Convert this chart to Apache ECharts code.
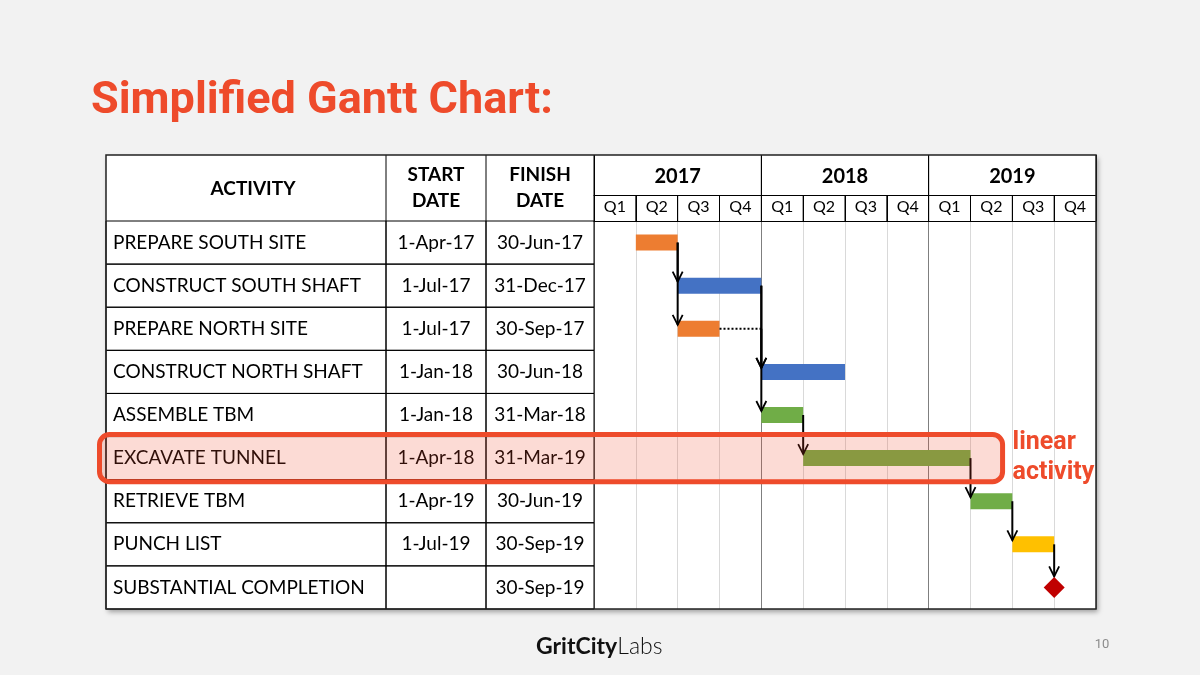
<!DOCTYPE html>
<html>
<head>
<meta charset="utf-8">
<script src="https://cdn.jsdelivr.net/npm/echarts@6/dist/echarts.min.js"></script>
<style>
html, body { margin: 0; padding: 0; background: #f2f2f2; }
#chart { width: 1200px; height: 675px; }
</style>
</head>
<body>
<div id="chart"></div>
<script>
// table rows
var activities = ['PREPARE SOUTH SITE', 'CONSTRUCT SOUTH SHAFT', 'PREPARE NORTH SITE', 'CONSTRUCT NORTH SHAFT',
    'ASSEMBLE TBM', 'EXCAVATE TUNNEL', 'RETRIEVE TBM', 'PUNCH LIST', 'SUBSTANTIAL COMPLETION'];
var startDates = ['1-Apr-17', '1-Jul-17', '1-Jul-17', '1-Jan-18', '1-Jan-18', '1-Apr-18', '1-Apr-19', '1-Jul-19', ''];
var finishDates = ['30-Jun-17', '31-Dec-17', '30-Sep-17', '30-Jun-18', '31-Mar-18', '31-Mar-19', '30-Jun-19', '30-Sep-19', '30-Sep-19'];
var barColors = ['#ed7d31', '#4472c4', '#ed7d31', '#4472c4', '#70ad47', '#70ad47', '#70ad47', '#ffc000', '#c00000'];
// predecessor -> successor
var links = [[0, 1], [0, 2], [1, 3], [1, 4], [2, 3], [4, 5], [5, 6], [6, 7], [7, 8]];
var years = ['2017', '2018', '2019'];
var quarterLabels = ['Q1', 'Q2', 'Q3', 'Q4', 'Q1', 'Q2', 'Q3', 'Q4', 'Q1', 'Q2', 'Q3', 'Q4'];
var highlightRow = 5;
var highlightEnd = 29.3;   // months from Jan 2017, right edge of the callout box

// layout (px)
var L = { left: 106, split: 594, right: 1096, headTop: 155, yearBottom: 195, bodyTop: 221, bottom: 609 };
var colEdges = [0, 280, 380, 488];   // table columns, in table-grid units (px from table left)
var FONT = 'Lato';

var MONTHS = { Jan: 0, Feb: 1, Mar: 2, Apr: 3, May: 4, Jun: 5, Jul: 6, Aug: 7, Sep: 8, Oct: 9, Nov: 10, Dec: 11 };
// months since 1-Jan-2017; a finish date counts to the end of its month
function toMonth(str, isFinish) {
    if (!str) return null;
    var p = str.split('-');
    return (2000 + Number(p[2]) - 2017) * 12 + MONTHS[p[1]] + (isFinish ? 1 : 0);
}
var startM = startDates.map(function (d) { return toMonth(d, false); });
var finishM = finishDates.map(function (d) { return toMonth(d, true); });

var tableData = activities.map(function (a, i) { return [0, i]; });
var barData = [], milestoneData = [];
activities.forEach(function (a, i) {
    if (startM[i] === null) milestoneData.push([finishM[i], i]);
    else barData.push([startM[i], finishM[i], i]);
});
var linkData = links.map(function (l) {
    var x = startM[l[1]] === null ? finishM[l[1]] : startM[l[1]];
    return [x, l[0], l[1], finishM[l[0]]];
});

function renderRow(params, api) {
    var i = api.value(1);
    var mid = api.coord([0, i]);
    var h = api.size([0, 1])[1];
    var top = mid[1] - h / 2;
    var xs = colEdges.map(function (e) { return api.coord([e, i])[0]; });
    var children = [];
    for (var k = 0; k < 3; k++) {
        children.push({
            type: 'rect',
            shape: { x: xs[k], y: top, width: xs[k + 1] - xs[k], height: h },
            style: { fill: null, stroke: '#000', lineWidth: 1 }
        });
    }
    var txt = { fill: '#000', fontSize: 19, fontFamily: FONT, verticalAlign: 'middle' };
    children.push({ type: 'text', x: xs[0] + 7, y: mid[1],
        style: echarts.util.extend({ text: activities[i], align: 'left' }, txt) });
    children.push({ type: 'text', x: (xs[1] + xs[2]) / 2, y: mid[1],
        style: echarts.util.extend({ text: startDates[i], align: 'center' }, txt) });
    children.push({ type: 'text', x: (xs[2] + xs[3]) / 2, y: mid[1],
        style: echarts.util.extend({ text: finishDates[i], align: 'center' }, txt) });
    return { type: 'group', children: children };
}

function renderBar(params, api) {
    var row = api.value(2);
    var s = api.coord([api.value(0), row]);
    var e = api.coord([api.value(1), row]);
    return {
        type: 'rect',
        shape: { x: s[0], y: s[1] - 8, width: e[0] - s[0], height: 16 },
        style: { fill: barColors[row] }
    };
}

function renderLink(params, api) {
    var x = api.value(0), from = api.value(1), to = api.value(2), fromEnd = api.value(3);
    var p0 = api.coord([x, from]);
    var p1 = api.coord([x, to]);
    var tipY = p1[1] - (startM[to] === null ? 11 : 4);
    var children = [];
    if (fromEnd < x) {
        children.push({
            type: 'line',
            shape: { x1: api.coord([fromEnd, from])[0], y1: p0[1], x2: p0[0], y2: p0[1] },
            style: { stroke: '#000', lineWidth: 2, lineDash: [2, 2] }
        });
    }
    children.push({
        type: 'line',
        shape: { x1: p0[0], y1: p0[1], x2: p0[0], y2: tipY },
        style: { stroke: '#000', lineWidth: 2 }
    });
    children.push({
        type: 'polyline',
        shape: { points: [[p0[0] - 5, tipY - 10], [p0[0], tipY], [p0[0] + 5, tipY - 10]] },
        style: { stroke: '#000', lineWidth: 1.8, fill: null }
    });
    return { type: 'group', children: children };
}

var chart = echarts.init(document.getElementById('chart'));
var option = {
    backgroundColor: '#f2f2f2',
    animation: false,
    grid: [
        { left: L.split, top: L.bodyTop, width: L.right - L.split, height: L.bottom - L.bodyTop },
        { left: L.left, top: L.bodyTop, width: L.split - L.left, height: L.bottom - L.bodyTop }
    ],
    xAxis: [
        {   // timeline, months since Jan 2017
            type: 'value', gridIndex: 0, min: 0, max: 36, interval: 3,
            axisLine: { show: false }, axisTick: { show: false }, axisLabel: { show: false },
            splitLine: { show: true, lineStyle: { color: ['#7f7f7f', '#d9d9d9', '#d9d9d9', '#d9d9d9'], width: 1 } }
        },
        {   // quarters
            type: 'category', gridIndex: 0, position: 'top',
            data: quarterLabels.map(function (q, i) { return years[Math.floor(i / 4)] + ' ' + q; }),
            axisLine: { show: true, lineStyle: { color: '#000', width: 1 } },
            axisTick: { show: true, alignWithLabel: false, interval: 0, length: 26, lineStyle: { color: '#000', width: 1 } },
            axisLabel: { interval: 0, margin: 6, fontSize: 16, color: '#000', fontFamily: FONT,
                formatter: function (v) { return v.split(' ')[1]; } },
            splitLine: { show: false }
        },
        {   // years
            type: 'category', gridIndex: 0, position: 'top', offset: 26, data: years,
            axisLine: { show: true, lineStyle: { color: '#000', width: 1 } },
            axisTick: { show: true, alignWithLabel: false, interval: 0, length: 40, lineStyle: { color: '#000', width: 1 } },
            axisLabel: { interval: 0, margin: 8, fontSize: 20, fontWeight: 'bold', color: '#000', fontFamily: FONT },
            splitLine: { show: false }
        },
        { type: 'value', gridIndex: 1, min: 0, max: colEdges[colEdges.length - 1], show: false }
    ],
    yAxis: [
        { type: 'category', gridIndex: 0, data: activities, inverse: true, show: false },
        { type: 'category', gridIndex: 1, data: activities, inverse: true, show: false }
    ],
    series: [
        { type: 'custom', name: 'table', xAxisIndex: 3, yAxisIndex: 1, renderItem: renderRow, data: tableData, silent: true },
        { type: 'custom', name: 'bars', xAxisIndex: 0, yAxisIndex: 0, renderItem: renderBar,
            encode: { x: [0, 1], y: 2 }, data: barData },
        { type: 'custom', name: 'links', xAxisIndex: 0, yAxisIndex: 0, renderItem: renderLink,
            encode: { x: [0, 3], y: [1, 2] }, data: linkData, z: 4 },
        { type: 'scatter', name: 'milestone', xAxisIndex: 0, yAxisIndex: 0, symbol: 'diamond', symbolSize: 21,
            itemStyle: { color: barColors[8], opacity: 1 }, data: milestoneData, z: 5 }
    ]
};
chart.setOption(option);

// callout box around the linear activity
var c5 = chart.convertToPixel({ gridIndex: 0 }, [highlightEnd, highlightRow]);
var c6 = chart.convertToPixel({ gridIndex: 0 }, [highlightEnd, highlightRow + 1]);
var rowH = c6[1] - c5[1];
var boxTop = c5[1] - rowH / 2 - 2, boxH = rowH + 4;
var accent = '#ee4b2b';

var headMid = (L.headTop + L.bodyTop) / 2;
var hx = colEdges.map(function (e) { return L.left + e; });
var headFont = { fill: '#000', fontSize: 19, fontWeight: 'bold', fontFamily: FONT, align: 'center', verticalAlign: 'middle', lineHeight: 26 };

// year / quarter separators in the header, drawn from the timeline scale
var headerLines = [];
for (var m = 3; m < 36; m += 3) {
    var gx = chart.convertToPixel({ xAxisIndex: 0 }, m);
    headerLines.push({
        type: 'line', z: 10,
        shape: { x1: gx, y1: m % 12 === 0 ? L.headTop : L.yearBottom, x2: gx, y2: L.bodyTop },
        style: { stroke: '#000', lineWidth: 1 }
    });
}

chart.setOption({
    graphic: [
        {   // table background with drop shadow
            type: 'rect', z: -10,
            shape: { x: L.left, y: L.headTop, width: L.right - L.left, height: L.bottom - L.headTop },
            style: { fill: '#fff', shadowBlur: 5, shadowOffsetX: 2, shadowOffsetY: 3, shadowColor: 'rgba(0,0,0,0.35)' }
        },
        {   // header column separators
            type: 'line', z: 10,
            shape: { x1: hx[1], y1: L.headTop, x2: hx[1], y2: L.bodyTop }, style: { stroke: '#000', lineWidth: 1 }
        },
        {
            type: 'line', z: 10,
            shape: { x1: hx[2], y1: L.headTop, x2: hx[2], y2: L.bodyTop }, style: { stroke: '#000', lineWidth: 1 }
        },
        {
            type: 'line', z: 10,
            shape: { x1: hx[3], y1: L.headTop, x2: hx[3], y2: L.bodyTop }, style: { stroke: '#000', lineWidth: 1 }
        },
        { type: 'text', z: 10, x: (hx[0] + hx[1]) / 2 + 7, y: headMid + 1, style: echarts.util.extend({ text: 'ACTIVITY' }, headFont) },
        { type: 'text', z: 10, x: (hx[1] + hx[2]) / 2, y: headMid, style: echarts.util.extend({ text: 'START\nDATE' }, headFont) },
        { type: 'text', z: 10, x: (hx[2] + hx[3]) / 2, y: headMid, style: echarts.util.extend({ text: 'FINISH\nDATE' }, headFont) },
        {   // outer border
            type: 'rect', z: 20,
            shape: { x: L.left, y: L.headTop, width: L.right - L.left, height: L.bottom - L.headTop },
            style: { fill: null, stroke: '#222', lineWidth: 1.5 }
        },
        {   // highlight
            type: 'rect', z: 30,
            shape: { x: L.left - 6.5, y: boxTop, width: c5[0] - (L.left - 6.5), height: boxH, r: 10 },
            style: { fill: 'rgba(238,75,43,0.2)', stroke: accent, lineWidth: 5 }
        },
        {
            type: 'text', z: 30, x: c5[0] + 10, y: c5[1],
            style: { text: 'linear\nactivity', fill: accent, fontSize: 25, fontWeight: 'bold', fontFamily: 'Roboto',
                lineHeight: 30, align: 'left', verticalAlign: 'middle' }
        },
        {   // title
            type: 'text', x: 91, y: 102,
            style: { text: 'Simplified Gantt Chart:', fill: accent, fontSize: 45, fontWeight: 'bold', fontFamily: 'Roboto',
                align: 'left', verticalAlign: 'middle' }
        },
        {   // footer
            type: 'text', x: 536, y: 647,
            style: {
                text: '{a|GritCity}{b|Labs}', align: 'left', verticalAlign: 'middle',
                rich: {
                    a: { fontSize: 23, fontWeight: 'bold', fontFamily: 'Lato', fill: '#111' },
                    b: { fontSize: 23, fontWeight: 300, fontFamily: 'Lato', fill: '#111' }
                }
            }
        },
        {
            type: 'text', x: 1102, y: 645,
            style: { text: '10', fill: '#8c8c8c', fontSize: 13, fontFamily: 'Roboto', align: 'center', verticalAlign: 'middle' }
        }
    ].concat(headerLines)
});
</script>
</body>
</html>
